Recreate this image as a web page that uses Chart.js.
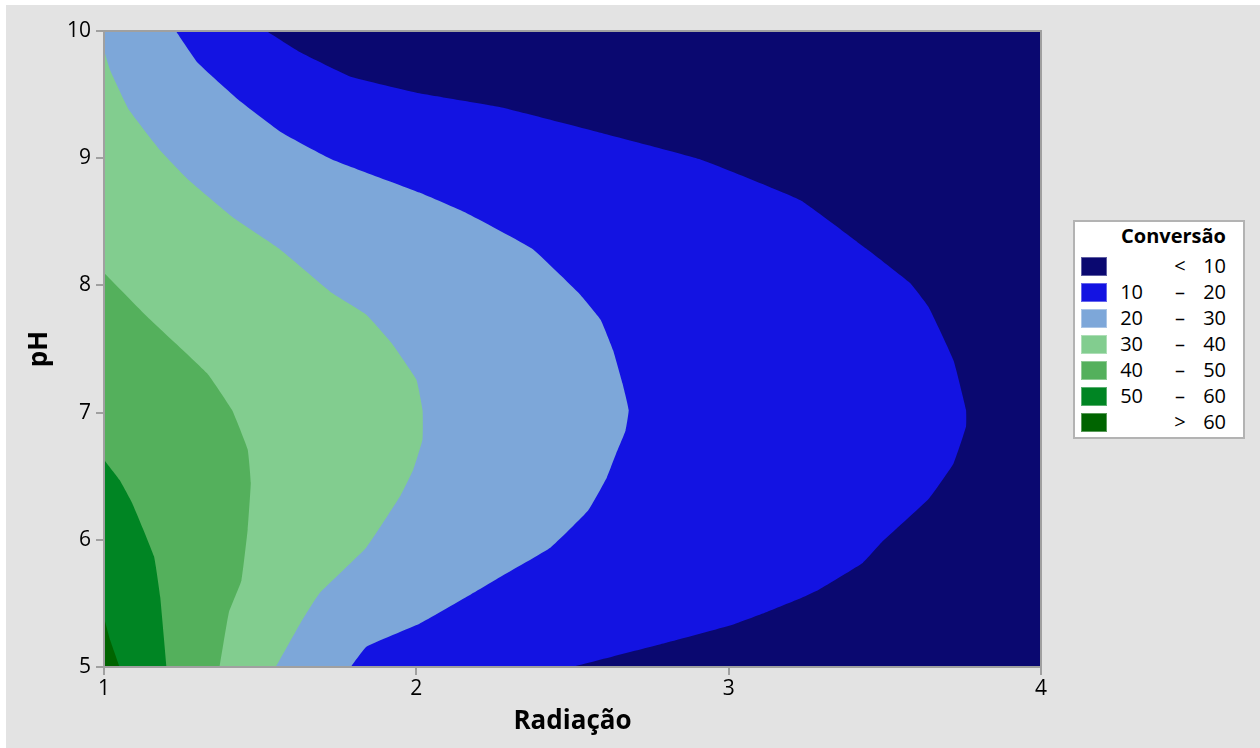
<!DOCTYPE html>
<html>
<head>
<meta charset="utf-8">
<script src="https://cdn.jsdelivr.net/npm/chart.js@4"></script>
<style>
html,body{margin:0;padding:0;background:#ffffff;width:1260px;height:748px;overflow:hidden}
#panel{position:absolute;left:6px;top:5px;width:1254px;height:743px;background:#e3e3e3}
#c{position:absolute;left:0;top:0}
#legend{position:absolute;left:1067px;top:215px;width:172px;height:219px;box-sizing:border-box;background:#fff;border:2px solid #b3b3b3;font-family:'Open Sans',sans-serif;color:#000}
#legend .title{position:absolute;right:17px;top:1px;font-size:20px;font-weight:bold;line-height:26px;white-space:nowrap}
#legend .sw{position:absolute;left:6px;width:26px;height:19px;box-sizing:border-box;border:1px solid rgba(255,255,255,0.35)}
#legend .t{position:absolute;font-size:20px;line-height:26px;white-space:nowrap}
#legend .a{left:0;width:68px;text-align:right}
#legend .b{left:90px;width:30px;text-align:center}
#legend .d{left:100px;width:51px;text-align:right}
</style>
</head>
<body>
<div id="panel">
<canvas id="c" width="1254" height="743" style="width:1254px;height:743px"></canvas>
<div id="legend"></div>
</div>
<script>
// Contour boundaries: Radiação values along each contour line, ascending pH
const ph_lt10  = [5, 10];
const rad_lt10 = [4, 4];

const ph_10  = [5.00,5.19,5.33,5.43,5.54,5.61,5.82,5.98,6.32,6.60,6.89,7.02,7.41,7.83,8.02,8.29,8.67,8.99,9.20,9.40,9.51,9.64,9.83,10.00];
const rad_10 = [2.50,2.80,3.01,3.12,3.23,3.29,3.43,3.49,3.64,3.72,3.76,3.76,3.72,3.64,3.58,3.44,3.23,2.91,2.59,2.27,2.01,1.79,1.63,1.52];

const ph_20  = [5.00,5.16,5.34,5.55,5.71,5.94,6.23,6.49,6.68,6.86,7.02,7.23,7.49,7.73,7.94,8.29,8.57,8.73,8.99,9.20,9.46,9.75,10.00];
const rad_20 = [1.79,1.84,2.01,2.16,2.27,2.43,2.55,2.61,2.64,2.67,2.68,2.66,2.63,2.59,2.52,2.37,2.16,2.01,1.73,1.57,1.43,1.30,1.23];

const ph_30  = [5.00,5.35,5.58,5.94,6.35,6.55,6.79,7.02,7.26,7.55,7.77,7.94,8.29,8.54,8.83,9.06,9.38,9.69,9.85];
const rad_30 = [1.55,1.63,1.69,1.84,1.95,1.99,2.02,2.02,2.00,1.92,1.84,1.73,1.56,1.41,1.27,1.18,1.08,1.02,1.00];

const ph_40  = [5.00,5.43,5.68,6.08,6.45,6.71,7.02,7.31,7.75,8.10];
const rad_40 = [1.37,1.40,1.44,1.46,1.47,1.46,1.41,1.33,1.14,1.00];

const ph_50  = [5.00,5.55,5.87,6.29,6.47,6.63];
const rad_50 = [1.20,1.18,1.16,1.09,1.05,1.00];

const ph_60  = [5.00,5.21,5.39];
const rad_60 = [1.05,1.02,1.00];

const xTicks = [1, 2, 3, 4];
const yTicks = [5, 6, 7, 8, 9, 10];

const legendTitle = 'Conversão';
const legendLow  = ['',  '10', '20', '30', '40', '50', ''];
const legendSym  = ['<', '–',  '–',  '–',  '–',  '–',  '>'];
const legendHigh = ['10','20', '30', '40', '50', '60', '60'];
const bandColors = ['#0a0870','#1313e2','#7da7d9','#82cd8f','#54b05c','#008523','#006400'];

const bands = [
  [rad_lt10, ph_lt10],
  [rad_10, ph_10],
  [rad_20, ph_20],
  [rad_30, ph_30],
  [rad_40, ph_40],
  [rad_50, ph_50],
  [rad_60, ph_60]
];

const datasets = bands.map(([r, p], i) => ({
  label: legendSym[i] + ' ' + legendHigh[i],
  data: p.map((v, k) => ({x: r[k], y: v})),
  fill: 'origin',
  backgroundColor: bandColors[i],
  borderColor: 'rgba(0,0,0,0)',
  borderWidth: 0,
  pointRadius: 0,
  pointHoverRadius: 0,
  tension: 0.1,
  order: bands.length - i
}));

const framePlugin = {
  id: 'frame',
  afterDatasetsDraw(chart) {
    const a = chart.chartArea, ctx = chart.ctx;
    ctx.save();
    ctx.strokeStyle = '#a0a0a0';
    ctx.lineWidth = 2;
    ctx.strokeRect(a.left, a.top, a.right - a.left, a.bottom - a.top);
    ctx.restore();
  }
};

const tickFont = {family: "'Open Sans', sans-serif", size: 21};
const titleFont = {family: "'Open Sans', sans-serif", size: 26, weight: 'bold', lineHeight: 1.2};

new Chart(document.getElementById('c'), {
  type: 'line',
  data: {datasets},
  options: {
    indexAxis: 'y',
    responsive: false,
    animation: false,
    devicePixelRatio: 1,
    layout: {padding: {top: 26, right: 219, left: 0, bottom: 0}},
    plugins: {legend: {display: false}, tooltip: {enabled: false}},
    events: [],
    scales: {
      x: {
        type: 'linear', position: 'bottom', min: xTicks[0], max: xTicks[xTicks.length - 1],
        afterBuildTicks(s) { s.ticks = xTicks.map(v => ({value: v})); },
        ticks: {color: '#000', font: tickFont, padding: 1, maxRotation: 0, autoSkip: false},
        grid: {drawOnChartArea: false, tickLength: 8, color: '#a0a0a0', lineWidth: 2},
        border: {display: false},
        title: {display: true, text: 'Radiação', color: '#000', font: titleFont, padding: {top: 0, bottom: 11}},
        afterFit(s) { s.height = 81; }
      },
      y: {
        type: 'linear', position: 'left', min: yTicks[0], max: yTicks[yTicks.length - 1],
        afterBuildTicks(s) { s.ticks = yTicks.map(v => ({value: v})); },
        ticks: {color: '#000', font: tickFont, padding: 5, autoSkip: false},
        grid: {drawOnChartArea: false, tickLength: 8, color: '#a0a0a0', lineWidth: 2},
        border: {display: false},
        title: {display: true, text: 'pH', color: '#000', font: titleFont, padding: {top: 18, bottom: 0}},
        afterFit(s) { s.width = 98; }
      }
    }
  },
  plugins: [framePlugin]
});

// HTML legend
const lg = document.getElementById('legend');
const tt = document.createElement('div');
tt.className = 'title';
tt.textContent = legendTitle;
lg.appendChild(tt);
bandColors.forEach((col, i) => {
  const sw = document.createElement('div');
  sw.className = 'sw';
  sw.style.top = (35 + 26 * i) + 'px';
  sw.style.background = col;
  lg.appendChild(sw);
  [['a', legendLow[i]], ['b', legendSym[i]], ['d', legendHigh[i]]].forEach(([cls, txt]) => {
    const s = document.createElement('span');
    s.className = 't ' + cls;
    s.style.top = (31 + 26 * i) + 'px';
    s.textContent = txt;
    lg.appendChild(s);
  });
});
</script>
</body>
</html>
